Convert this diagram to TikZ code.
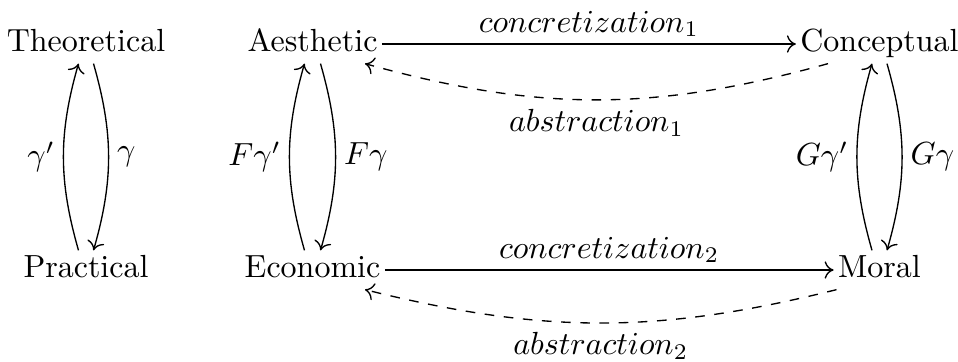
\documentclass[tikz,border=0pt]{standalone}
\usetikzlibrary{arrows.meta,calc}
\begin{document}
\begin{tikzpicture}[x=0.3125pt,y=-0.3125pt,>={Computer Modern Rightarrow[length=2.8pt,width=5.4pt]},
  obj/.style={anchor=base,inner xsep=1.2pt,inner ysep=1.5pt,text height=6.94pt,text depth=1.94pt},
  arr/.style={->,line width=0.42pt},
  darr/.style={->,dashed,line width=0.42pt},
  lab/.style={inner sep=2.5pt},
  ablab/.style={inner sep=2.8pt},
  conlab/.style={inner sep=2pt}]
\useasboundingbox (0,0) rectangle (958,362);
\node[obj] (T) at (86,52) {Theoretical};
\node[obj] (P) at (86,278) {Practical};
\node[obj] (A) at (312.5,52) {Aesthetic};
\node[obj] (E) at (312.5,278) {Economic};
\node[obj] (C) at (879.5,52) {Conceptual};
\node[obj] (M) at (879.5,278) {Moral};
% left pair
\draw[arr] ($(P.north)+(-7.5,0)$) to[bend left=16] node[left,lab]{$\gamma'$} ($(T.south)+(-7.5,0)$);
\draw[arr] ($(T.south)+(7.5,0)$) to[bend left=16] node[right,lab]{$\gamma$} ($(P.north)+(7.5,0)$);
% F pair
\draw[arr] ($(E.north)+(-8,0)$) to[bend left=16] node[left,lab]{$F\gamma'$} ($(A.south)+(-8,0)$);
\draw[arr] ($(A.south)+(8,0)$) to[bend left=16] node[right,lab]{$F\gamma$} ($(E.north)+(8,0)$);
% G pair
\draw[arr] ($(M.north)+(-7.5,0)$) to[bend left=16] node[left,lab]{$G\gamma'$} ($(C.south)+(-7.5,0)$);
\draw[arr] ($(C.south)+(7.5,0)$) to[bend left=16] node[right,lab]{$G\gamma$} ($(M.north)+(7.5,0)$);
% horizontal
\draw[arr] (A) -- node[above,conlab]{$concretization_1$} (C);
\draw[arr] (E) -- node[above,conlab]{$concretization_2$} (M);
\draw[darr] ($(C.south)+(-51.5,0)$) to[bend left=15.5] node[below,ablab]{$abstraction_1$} ($(A.south)+(52.5,0)$);
\draw[darr] ($(M.south)+(-43,0)$) to[bend left=14] node[below,ablab]{$abstraction_2$} ($(E.south)+(52.5,0)$);
\end{tikzpicture}
\end{document}
